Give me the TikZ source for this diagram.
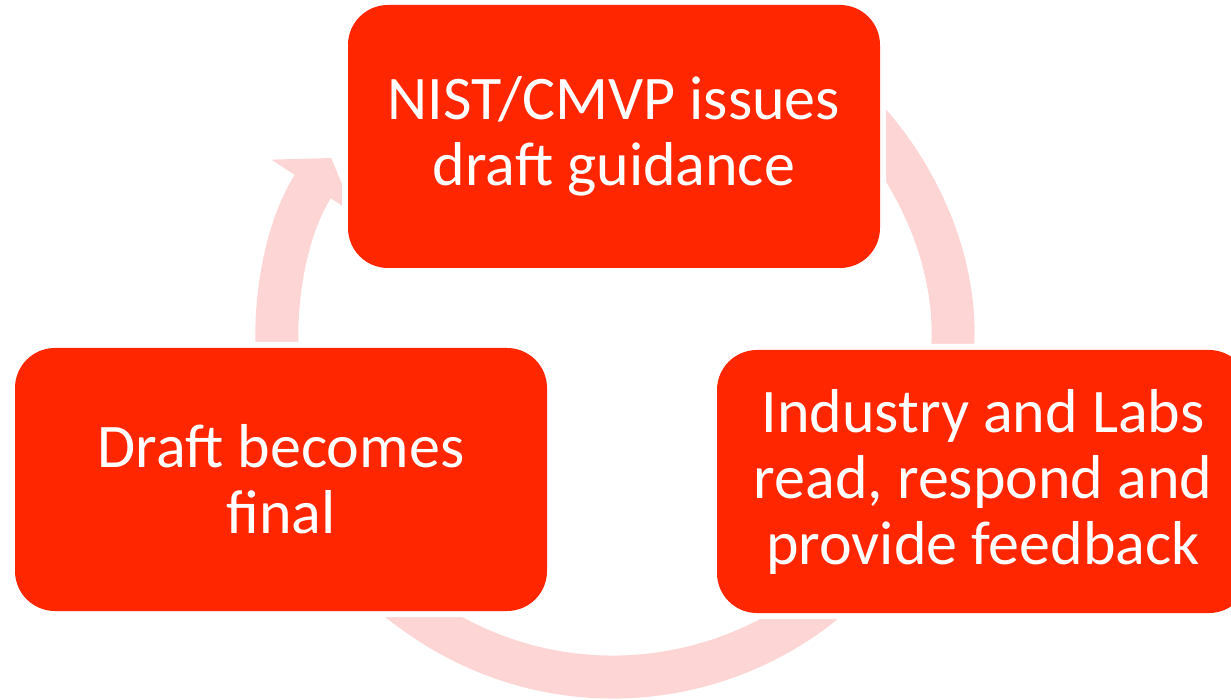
\documentclass[tikz,border=0pt]{standalone}
\usepackage{fontspec}
\setmainfont{Carlito}
\usetikzlibrary{arrows.meta}

\definecolor{boxred}{RGB}{255,38,0}
\definecolor{ringpink}{RGB}{254,213,213}

\tikzset{
  stage/.style={fill=boxred, rounded corners=40pt, minimum width=532pt,
    minimum height=263pt, inner sep=0pt, text=white, align=center,
    font=\fontsize{62}{66}\selectfont,
    preaction={draw=white, line width=12pt}},
  ring/.style={draw=ringpink, line width=43pt,
    -{Triangle[width=97pt,length=34pt]}}
}

\begin{document}
\begin{tikzpicture}[x=1pt,y=1pt]
  \useasboundingbox (0,0) rectangle (1231,699);
  \coordinate (hub) at (613,358);
  % the three arcs of the cycle, drawn first so the boxes cover their ends
  \draw[ring] (hub) ++(60:336) arc[start angle=60, end angle=-12, radius=336];
  \draw[ring] (hub) ++(-30:336) arc[start angle=-30, end angle=-146, radius=336];
  \draw[ring] (hub) ++(190:336) arc[start angle=190, end angle=147, radius=336];
  % stages
  \node[stage] (guidance) at (614,562.5) {NIST/CMVP issues\\draft guidance};
  \node[stage] (feedback) at (983,217.5) {Industry and Labs\\read, respond and\\provide feedback};
  \node[stage] (final) at (281,219.5) {Draft becomes\\final};
\end{tikzpicture}
\end{document}
